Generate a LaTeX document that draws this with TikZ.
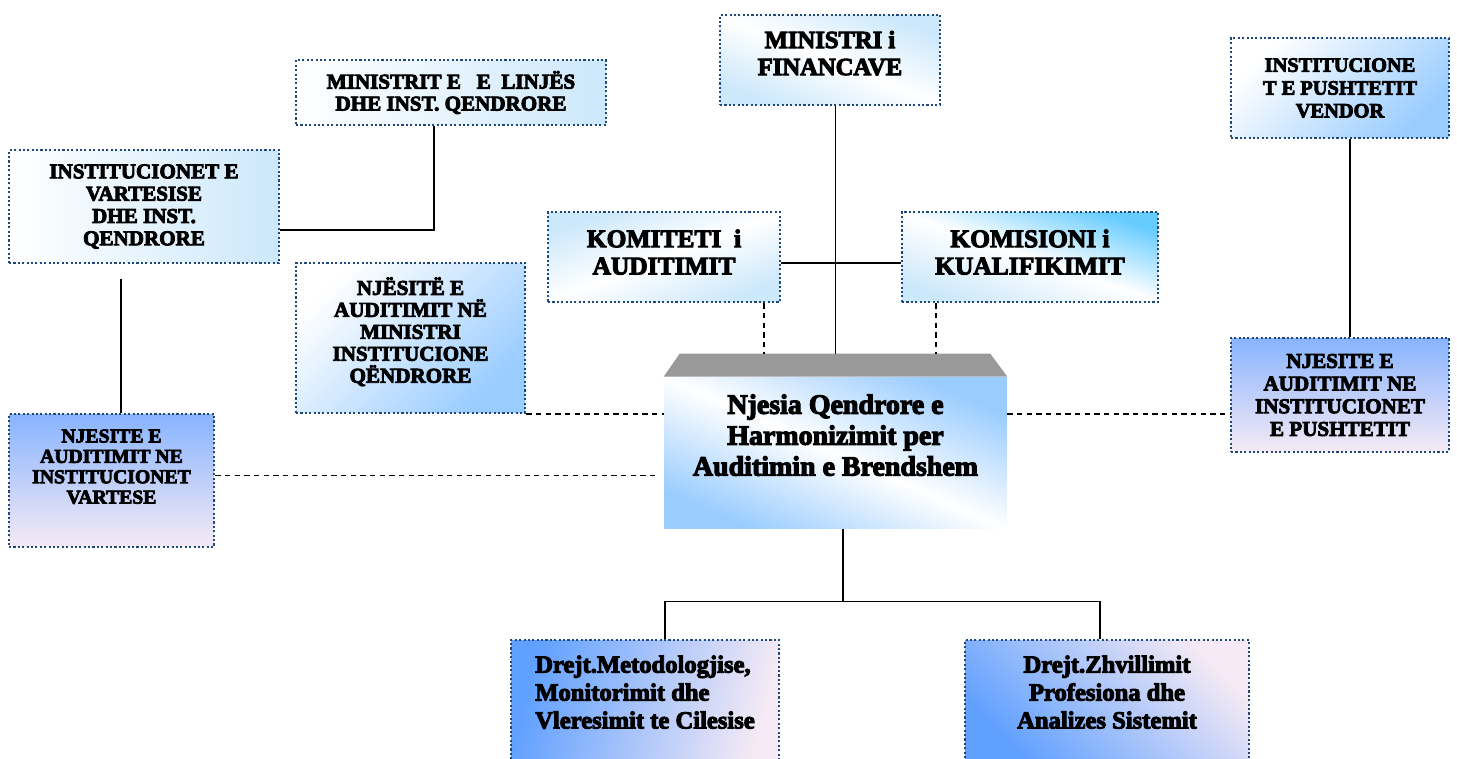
\documentclass[tikz,border=0pt]{standalone}
\usepackage{fontspec}
\setmainfont{Liberation Serif}
\newfontfamily\heavyfont{Liberation Serif}[UprightFont={* Bold}, FakeBold=4]
\newcommand\boxfont[2]{\heavyfont\fontsize{#1}{#2}\selectfont}
\definecolor{bordercol}{RGB}{31,73,125}
\definecolor{paleblue}{RGB}{204,232,251}
\definecolor{cyanblue}{RGB}{102,204,255}
\definecolor{skyblue}{RGB}{153,204,255}
\definecolor{topblue}{RGB}{136,180,255}
\definecolor{pinkwhite}{RGB}{245,234,245}
\definecolor{deepblue}{RGB}{96,160,255}
\definecolor{roofgray}{RGB}{153,153,153}

\begin{document}
\begin{tikzpicture}[x=0.02cm, y=-0.02cm,
    box/.style={draw=bordercol, line width=1.5pt, dash pattern=on 1.2pt off 1.3pt,
      align=center, inner sep=2pt},
    pale/.style={box, left color=white, right color=paleblue},
    bandbox/.style={box, top color=#1, bottom color=#1, middle color=white},
    skybox/.style={box, top color=white, bottom color=skyblue, shading angle=45},
    unitbox/.style={box, top color=topblue, bottom color=pinkwhite},
    link/.style={line width=0.8pt},
    dlink/.style={line width=1pt, dash pattern=on 3pt off 2.5pt}]
    \useasboundingbox (0,0) rectangle (1457,758);
    \clip (0,0) rectangle (1457,758);

    \node[bandbox=paleblue, shading angle=-22, minimum width=4.4cm, minimum height=1.8cm,
      text depth=0.28cm, font=\boxfont{14}{15.4}]
      (fin) at (830,60) {MINISTRI i\\FINANCAVE};
    \node[pale, minimum width=6.2cm, minimum height=1.3cm, font=\boxfont{12}{12.5}]
      (linjes) at (451,92.5) {MINISTRIT E~~ E~~LINJËS\\DHE INST. QENDRORE};
    \node[pale, minimum width=5.4cm, minimum height=2.26cm, font=\boxfont{12}{12.7}]
      (vart) at (144,206.5) {INSTITUCIONET E\\VARTESISE\\DHE INST.\\QENDRORE};
    \node[bandbox=paleblue, shading angle=21, minimum width=4.64cm, minimum height=1.8cm,
      text depth=0.2cm, font=\boxfont{14.5}{15.5}]
      (komit) at (664,257) {KOMITETI~ i\\AUDITIMIT};
    \node[box, top color=cyanblue, bottom color=paleblue, middle color=white, shading angle=-19,
      minimum width=5.12cm, minimum height=1.8cm, text depth=0.2cm, font=\boxfont{14.5}{15.5}]
      (komis) at (1030,257) {KOMISIONI i\\KUALIFIKIMIT};
    \node[skybox, minimum width=4.36cm, minimum height=2cm, font=\boxfont{11.6}{13}]
      (vendor) at (1340,88) {INSTITUCIONE\\T E PUSHTETIT\\VENDOR};
    \node[skybox, minimum width=4.58cm, minimum height=3cm, text depth=0.32cm, font=\boxfont{12}{12.5}]
      (njmin) at (410.5,338) {NJËSITË E\\AUDITIMIT NË\\MINISTRI\\INSTITUCIONE\\QËNDRORE};
    \node[unitbox, minimum width=4.1cm, minimum height=2.66cm, text depth=0.56cm, font=\boxfont{11.2}{11.6}]
      (njvar) at (111.5,480.5) {NJESITE E\\AUDITIMIT NE\\INSTITUCIONET\\VARTESE};
    \node[unitbox, minimum width=4.36cm, minimum height=2.28cm, font=\boxfont{12}{12.9}]
      (njpush) at (1340,395) {NJESITE E\\AUDITIMIT NE\\INSTITUCIONET\\E PUSHTETIT};
    \node[top color=skyblue, bottom color=skyblue, middle color=white, shading angle=-24,
      minimum width=6.86cm, minimum height=3.04cm, text depth=0.72cm, align=center,
      font=\boxfont{15.9}{17.6}]
      (central) at (835.5,453) {Njesia Qendrore e\\Harmonizimit per\\Auditimin e Brendshem};
    \node[box, left color=deepblue, right color=pinkwhite, shading angle=75, align=left,
      minimum width=5.36cm, minimum height=2.4cm, text depth=0.32cm, font=\boxfont{14}{15.9}]
      (metod) at (645,700) {Drejt.Metodologjise,\\Monitorimit dhe\\Vleresimit te Cilesise};
    \node[box, top color=pinkwhite, bottom color=deepblue, shading angle=-45,
      minimum width=5.68cm, minimum height=2.4cm, text depth=0.32cm, font=\boxfont{14}{15.9}]
      (zhvill) at (1107,700) {Drejt.Zhvillimit\\Profesiona dhe\\Analizes Sistemit};

    \fill[roofgray] (central.north west) -- ([xshift=0.32cm,yshift=0.46cm]central.north west)
      -- ([xshift=-0.34cm,yshift=0.46cm]central.north east) -- (central.north east) -- cycle;
    \coordinate (roof) at ([yshift=0.46cm]central.north);

    \coordinate (fd) at (fin.south -| roof);
    \draw[link] (fd) -- (roof);
    \draw[link] ([yshift=-0.12cm]komit.east) -- ([yshift=-0.12cm]komis.west);
    \coordinate (kd) at ([xshift=-0.34cm]komit.south east);
    \coordinate (qd) at ([xshift=0.7cm]komis.south west);
    \draw[dlink] (kd) -- (kd |- roof);
    \draw[dlink] (qd) -- (qd |- roof);

    \draw[link] ([xshift=-0.34cm]linjes.south) |- ([yshift=-0.47cm]vart.east);
    \coordinate (vd) at ([xshift=-0.46cm]vart.south);
    \draw[link, shorten <=0.3cm] (vd) -- (vd |- njvar.north);
    \draw[dlink] (njmin.south east) -- (njmin.south east -| central.west);
    \coordinate (nd) at ([yshift=0.1cm]njvar.east);
    \draw[dlink, shorten >=0.18cm] (nd) -- (nd -| central.west);
    \coordinate (pd) at ([yshift=-0.38cm]njpush.west);
    \draw[dlink] (pd -| central.east) -- (pd);
    \draw[link] ([xshift=0.2cm]vendor.south) -- ([xshift=0.2cm]njpush.north);

    \coordinate (cd) at ([xshift=0.15cm]central.south);
    \coordinate (split) at ([yshift=-1.44cm]cd);
    \coordinate (mtop) at ([xshift=0.4cm]metod.north);
    \coordinate (ztop) at ([xshift=-0.14cm]zhvill.north);
    \draw[link] (cd) -- (split);
    \draw[link] (mtop) |- (split) -| (ztop);
\end{tikzpicture}
\end{document}
